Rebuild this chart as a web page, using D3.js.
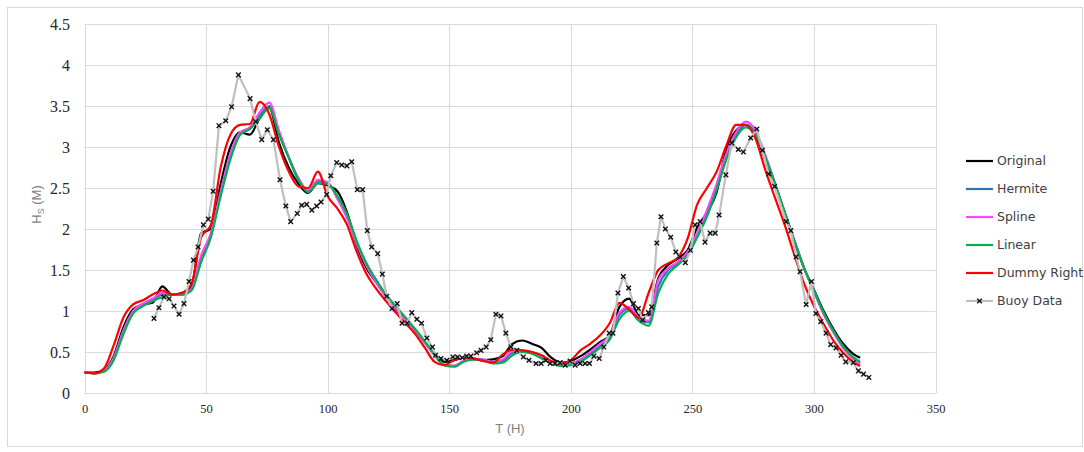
<!DOCTYPE html>
<html>
<head>
<meta charset="utf-8">
<script src="https://cdn.jsdelivr.net/npm/d3@7"></script>
<style>
  html, body { margin: 0; padding: 0; background: #fff; }
  svg { display: block; }
</style>
</head>
<body>
<svg id="chart" width="1084" height="452"></svg>
<script>
// Model time grid (hours)
const hours = [
  0, 4, 8, 12, 16, 20, 24, 28, 32, 36,
  40, 44, 48, 52, 56, 60, 64, 68, 72, 76,
  80, 84, 88, 92, 96, 100, 104, 108, 112, 116,
  120, 124, 128, 132, 136, 140, 144, 148, 152, 156,
  160, 164, 168, 172, 176, 180, 184, 188, 192, 196,
  200, 204, 208, 212, 216, 220, 224, 228, 232, 236,
  240, 244, 248, 252, 256, 260, 264, 268, 272, 276,
  280, 284, 288, 292, 296, 300, 304, 308, 312, 316,
  319
];

const original = [
  0.25, 0.25, 0.28, 0.45, 0.80, 1.02, 1.08, 1.10, 1.30, 1.20,
  1.22, 1.30, 1.95, 2.00, 2.55, 3.00, 3.18, 3.15, 3.35, 3.48,
  3.05, 2.75, 2.55, 2.44, 2.56, 2.53, 2.46, 2.20, 1.80, 1.52,
  1.35, 1.18, 1.02, 0.90, 0.77, 0.62, 0.48, 0.38, 0.40, 0.43,
  0.42, 0.40, 0.41, 0.45, 0.60, 0.64, 0.60, 0.55, 0.43, 0.37,
  0.39, 0.45, 0.53, 0.62, 0.70, 1.05, 1.15, 0.95, 0.95, 1.40,
  1.56, 1.64, 1.74, 2.02, 2.20, 2.45, 2.98, 3.20, 3.27, 3.15,
  2.85, 2.52, 2.20, 1.85, 1.52, 1.26, 1.00, 0.78, 0.60, 0.48,
  0.43
];

const hermite = [
  0.25, 0.24, 0.27, 0.42, 0.75, 0.99, 1.08, 1.14, 1.20, 1.20,
  1.20, 1.26, 1.65, 1.93, 2.45, 2.90, 3.17, 3.22, 3.38, 3.50,
  3.17, 2.87, 2.60, 2.46, 2.58, 2.56, 2.38, 2.15, 1.83, 1.56,
  1.36, 1.18, 1.04, 0.90, 0.76, 0.62, 0.46, 0.34, 0.33, 0.39,
  0.41, 0.40, 0.37, 0.39, 0.49, 0.50, 0.49, 0.44, 0.38, 0.34,
  0.35, 0.40, 0.48, 0.57, 0.68, 0.95, 1.03, 0.90, 0.86, 1.30,
  1.50, 1.58, 1.70, 1.93, 2.20, 2.52, 2.90, 3.15, 3.27, 3.17,
  2.88, 2.55, 2.20, 1.85, 1.52, 1.24, 0.97, 0.75, 0.56, 0.43,
  0.37
];

const spline = [
  0.25, 0.24, 0.27, 0.43, 0.76, 1.00, 1.09, 1.15, 1.22, 1.20,
  1.20, 1.27, 1.68, 1.95, 2.45, 2.92, 3.18, 3.24, 3.42, 3.54,
  3.20, 2.88, 2.62, 2.47, 2.60, 2.57, 2.37, 2.13, 1.82, 1.55,
  1.35, 1.17, 1.03, 0.89, 0.76, 0.61, 0.46, 0.34, 0.33, 0.39,
  0.42, 0.41, 0.38, 0.41, 0.51, 0.52, 0.50, 0.45, 0.38, 0.34,
  0.36, 0.41, 0.50, 0.60, 0.70, 0.98, 1.05, 0.92, 0.88, 1.38,
  1.52, 1.60, 1.72, 1.95, 2.23, 2.55, 2.92, 3.18, 3.31, 3.20,
  2.90, 2.56, 2.20, 1.86, 1.52, 1.24, 0.96, 0.74, 0.55, 0.42,
  0.36
];

const linear = [
  0.25, 0.24, 0.26, 0.40, 0.72, 0.97, 1.06, 1.12, 1.17, 1.20,
  1.20, 1.25, 1.60, 1.90, 2.40, 2.85, 3.15, 3.22, 3.35, 3.47,
  3.15, 2.87, 2.60, 2.45, 2.56, 2.55, 2.40, 2.18, 1.85, 1.58,
  1.38, 1.20, 1.06, 0.92, 0.78, 0.63, 0.47, 0.34, 0.32, 0.38,
  0.41, 0.40, 0.36, 0.37, 0.46, 0.50, 0.48, 0.42, 0.36, 0.33,
  0.34, 0.38, 0.46, 0.55, 0.65, 0.90, 1.00, 0.88, 0.82, 1.22,
  1.45, 1.56, 1.68, 1.90, 2.15, 2.48, 2.85, 3.12, 3.24, 3.15,
  2.88, 2.55, 2.20, 1.85, 1.52, 1.25, 0.98, 0.76, 0.57, 0.44,
  0.38
];

const dummyRight = [
  0.25, 0.24, 0.30, 0.58, 0.92, 1.08, 1.13, 1.20, 1.25, 1.20,
  1.22, 1.33, 1.90, 2.05, 2.75, 3.15, 3.27, 3.28, 3.55, 3.40,
  3.00, 2.70, 2.52, 2.50, 2.70, 2.40, 2.25, 2.05, 1.72, 1.45,
  1.27, 1.12, 0.98, 0.85, 0.72, 0.55, 0.38, 0.34, 0.40, 0.43,
  0.42, 0.39, 0.37, 0.47, 0.53, 0.52, 0.50, 0.46, 0.39, 0.36,
  0.40, 0.52, 0.60, 0.70, 0.85, 1.10, 1.02, 0.92, 1.22, 1.50,
  1.58, 1.65, 1.88, 2.30, 2.50, 2.70, 3.02, 3.27, 3.27, 3.10,
  2.72, 2.38, 2.05, 1.68, 1.33, 1.06, 0.84, 0.64, 0.49, 0.38,
  0.33
];

// Measured significant wave height at the buoy
const buoyHours = [
  28.6, 30.6, 32.7, 34.8, 36.8, 38.9, 40.9, 43.0, 44.8, 46.7,
  48.9, 50.9, 52.9, 55.3, 58.1, 60.5, 63.3, 68.1, 70.4, 72.9,
  75.2, 77.7, 80.4, 82.8, 84.8, 87.5, 89.3, 91.4, 93.5, 95.5,
  97.3, 99.6, 101.3, 103.7, 105.8, 107.9, 109.9, 112.2, 114.4, 116.3,
  118.1, 120.6, 122.5, 124.3, 126.5, 128.6, 130.6, 132.7, 134.6, 136.7,
  138.6, 140.8, 143.1, 144.4, 146.6, 149.0, 151.5, 153.4, 155.4, 157.2,
  158.9, 161.3, 163.1, 165.2, 167.1, 169.2, 171.3, 173.3, 175.4, 177.8,
  180.5, 182.8, 185.7, 187.8, 189.7, 191.5, 193.5, 195.6, 197.7, 199.7,
  201.8, 203.8, 205.9, 207.7, 209.5, 211.7, 213.6, 215.8, 217.3, 219.4,
  221.6, 223.8, 225.8, 227.8, 229.6, 231.9, 233.3, 235.4, 237.1, 238.9,
  241.1, 243.2, 244.9, 247.1, 249.2, 251.1, 253.2, 255.2, 257.3, 259.4,
  261.0, 263.8, 266.2, 268.9, 271.0, 274.0, 276.5, 278.8, 281.4, 283.8,
  288.6, 290.5, 292.7, 294.3, 296.8, 299.0, 300.8, 302.8, 305.0, 306.9,
  309.1, 311.2, 313.1, 316.2, 318.3, 320.4, 322.6
];

const buoyHs = [
  0.91, 1.04, 1.17, 1.15, 1.06, 0.96, 1.09, 1.36, 1.62, 1.78,
  2.05, 2.12, 2.46, 3.26, 3.32, 3.49, 3.88, 3.59, 3.31, 3.09,
  3.21, 3.09, 2.60, 2.28, 2.09, 2.19, 2.29, 2.30, 2.23, 2.28,
  2.33, 2.42, 2.65, 2.81, 2.78, 2.77, 2.82, 2.48, 2.48, 1.98,
  1.78, 1.70, 1.45, 1.18, 1.03, 1.09, 0.85, 0.85, 0.98, 0.90,
  0.85, 0.67, 0.56, 0.46, 0.42, 0.40, 0.44, 0.44, 0.43, 0.45,
  0.45, 0.49, 0.52, 0.56, 0.65, 0.96, 0.94, 0.73, 0.56, 0.52,
  0.44, 0.40, 0.36, 0.36, 0.40, 0.36, 0.36, 0.37, 0.34, 0.39,
  0.34, 0.36, 0.36, 0.36, 0.45, 0.42, 0.56, 0.73, 0.73, 1.22,
  1.42, 1.28, 1.09, 1.03, 0.89, 0.98, 1.05, 1.83, 2.15, 2.00,
  1.90, 1.72, 1.66, 1.59, 1.74, 2.05, 2.09, 1.84, 1.95, 1.95,
  2.17, 2.66, 3.05, 2.97, 2.94, 3.11, 3.22, 2.96, 2.67, 2.52,
  2.09, 1.98, 1.66, 1.48, 1.08, 1.36, 0.97, 0.87, 0.73, 0.59,
  0.55, 0.46, 0.38, 0.37, 0.27, 0.23, 0.19
];

const xTicks = [0, 50, 100, 150, 200, 250, 300, 350];
const yTicks = [0, 0.5, 1, 1.5, 2, 2.5, 3, 3.5, 4, 4.5];

const seriesNames = ["Original", "Hermite", "Spline", "Linear", "Dummy Right", "Buoy Data"];
const seriesColors = ["#000000", "#2e75b6", "#ff44ff", "#00b050", "#ff0000", "#bfbfbf"];
const modelValues = [original, hermite, spline, linear, dummyRight];

// Layout
const svg = d3.select("#chart");
const W = 1084, H = 452;
const plot = { left: 84.5, right: 935.5, top: 24, bottom: 393 };

// Chart frame
svg.append("rect")
  .attr("x", 7.5).attr("y", 7.5)
  .attr("width", W - 9).attr("height", H - 13)
  .attr("fill", "#fff").attr("stroke", "#d9d9d9").attr("stroke-width", 1);

const x = d3.scaleLinear().domain([0, 350]).range([plot.left, plot.right]);
const y = d3.scaleLinear().domain([0, 4.5]).range([plot.bottom, plot.top]);

// Grid
const grid = svg.append("g");
grid.selectAll("line.h").data(yTicks).join("line")
  .attr("x1", plot.left).attr("x2", plot.right)
  .attr("y1", d => Math.round(y(d)) + 0.5).attr("y2", d => Math.round(y(d)) + 0.5)
  .attr("stroke", "#d9d9d9").attr("stroke-width", 1);
grid.selectAll("line.v").data(xTicks).join("line")
  .attr("y1", plot.top).attr("y2", plot.bottom)
  .attr("x1", d => Math.round(x(d)) + 0.5).attr("x2", d => Math.round(x(d)) + 0.5)
  .attr("stroke", "#d9d9d9").attr("stroke-width", 1);

// Axes (labels only; lines come from the grid)
const xAxis = svg.append("g")
  .attr("transform", `translate(0,${plot.bottom})`)
  .call(d3.axisBottom(x).tickValues(xTicks).tickSize(0).tickPadding(11).tickFormat(d3.format("d")));
xAxis.select(".domain").attr("stroke", "#d9d9d9");
xAxis.selectAll("text")
  .attr("font-family", "'Liberation Serif', 'Times New Roman', serif")
  .attr("font-size", 12.5).attr("fill", "#262626");

const yAxis = svg.append("g")
  .attr("transform", `translate(${plot.left - 14.5},0)`)
  .call(d3.axisLeft(y).tickValues(yTicks).tickSize(0).tickPadding(0).tickFormat(d3.format("~g")));
yAxis.select(".domain").remove();
yAxis.selectAll("text")
  .attr("font-family", "'Liberation Serif', 'Times New Roman', serif")
  .attr("font-size", 16).attr("fill", "#262626");

// Axis titles
svg.append("text")
  .attr("x", (plot.left + plot.right) / 2).attr("y", 433)
  .attr("text-anchor", "middle")
  .attr("font-family", "'Liberation Sans Narrow', 'Liberation Sans', sans-serif")
  .attr("font-size", 13).attr("fill", "#7f7f7f")
  .text("T (H)");

const yTitle = svg.append("text")
  .attr("transform", `translate(41,${(plot.top + plot.bottom) / 2 - 4}) rotate(-90)`)
  .attr("text-anchor", "middle")
  .attr("font-family", "'Liberation Sans Narrow', 'Liberation Sans', sans-serif")
  .attr("font-size", 13).attr("fill", "#7f7f7f");
yTitle.append("tspan").text("H");
yTitle.append("tspan").attr("font-size", 9).attr("dy", 3).text("S");
yTitle.append("tspan").attr("dy", -3).text(" (M)");

// Model series
const smooth = d3.line()
  .x(d => x(d[0])).y(d => y(d[1]))
  .curve(d3.curveMonotoneX);

const linesG = svg.append("g");
modelValues.forEach((vals, i) => {
  linesG.append("path")
    .datum(hours.map((h, k) => [h, vals[k]]))
    .attr("d", smooth)
    .attr("fill", "none")
    .attr("stroke", seriesColors[i])
    .attr("stroke-width", 2.2)
    .attr("stroke-linejoin", "round");
});

// Buoy observations
const buoyPts = buoyHours.map((h, k) => [h, buoyHs[k]]);
const straight = d3.line().x(d => x(d[0])).y(d => y(d[1]));
linesG.append("path")
  .datum(buoyPts)
  .attr("d", straight)
  .attr("fill", "none")
  .attr("stroke", seriesColors[5])
  .attr("stroke-width", 2.2)
  .attr("stroke-linejoin", "round");

const crossPath = "M-2.3,-2.3L2.3,2.3M-2.3,2.3L2.3,-2.3";
linesG.selectAll("path.marker").data(buoyPts).join("path")
  .attr("class", "marker")
  .attr("transform", d => `translate(${x(d[0])},${y(d[1])})`)
  .attr("d", crossPath)
  .attr("stroke", "#111")
  .attr("stroke-width", 1.4)
  .attr("fill", "none");

// Legend
const legend = svg.append("g").attr("transform", "translate(966,0)");
const legendY = d3.scalePoint().domain(seriesNames).range([161, 301]);
seriesNames.forEach((name, i) => {
  const ly = legendY(name);
  legend.append("line")
    .attr("x1", 0).attr("x2", 27).attr("y1", ly).attr("y2", ly)
    .attr("stroke", seriesColors[i]).attr("stroke-width", 2.2);
  if (name === "Buoy Data") {
    legend.append("path")
      .attr("transform", `translate(13.5,${ly})`)
      .attr("d", crossPath)
      .attr("stroke", "#111").attr("stroke-width", 1.4);
  }
  legend.append("text")
    .attr("x", 31).attr("y", ly).attr("dy", "0.35em")
    .attr("font-family", "'DejaVu Sans', Verdana, sans-serif")
    .attr("font-size", 12.5).attr("fill", "#404040")
    .text(name);
});
</script>
</body>
</html>
